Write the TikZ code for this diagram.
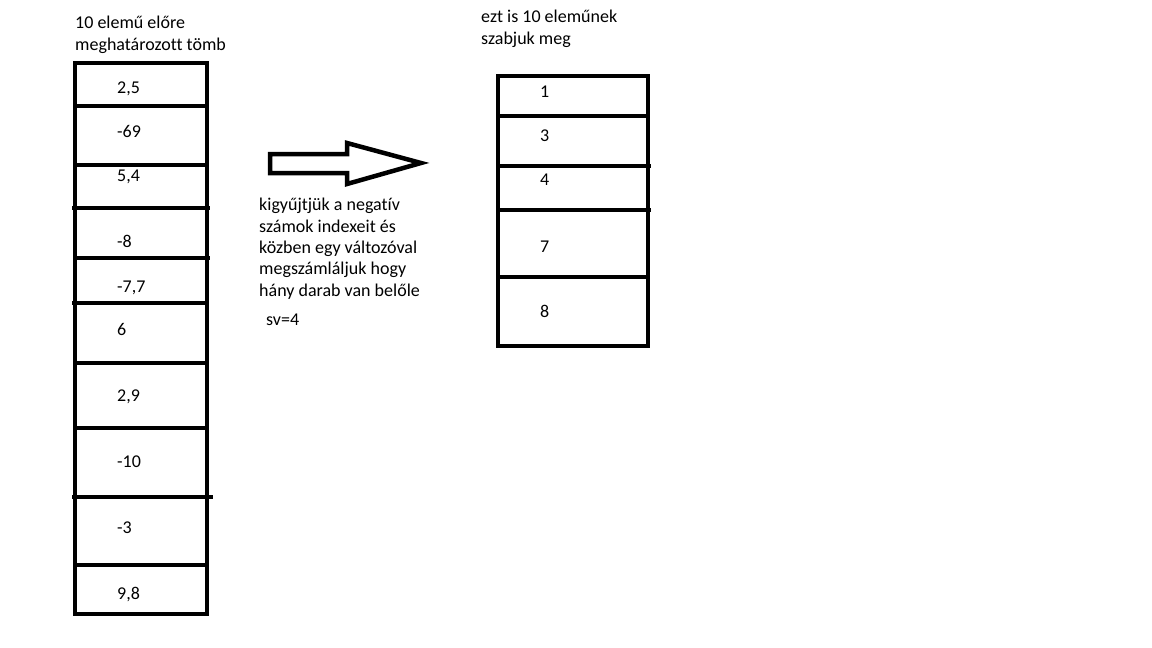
\documentclass[tikz,border=0pt]{standalone}
\usepackage{fontspec}
\setmainfont{Carlito}[Ligatures={NoCommon}]
\begin{document}
\begin{tikzpicture}[x=1pt,y=-1pt,
  bar/.style={line width=4.5pt},
  txt/.style={anchor=base west,inner sep=0pt,font=\fontsize{18}{20}\selectfont}]
\useasboundingbox[fill=white] (0,0) rectangle (1152,648);
% titles
\node[txt] (t1a) at (75,28) {10 elemű előre};
\node[txt] (t1b) at (75,50) {meghatározott tömb};
\node[txt] (t2a) at (481,22) {ezt is 10 eleműnek};
\node[txt] (t2b) at (481,44) {szabjuk meg};
% left array
\draw[bar] (75,63) rectangle (207,614);
\draw[bar] (75,106) -- (207,106);
\draw[bar] (75,165) -- (207,165);
\draw[bar] (72,208) -- (210,208);
\draw[bar] (75,258) -- (210,258);
\draw[bar] (72,303) -- (207,303);
\draw[bar] (75,363) -- (209,363);
\draw[bar] (75,428) -- (207,428);
\draw[bar] (72,497) -- (213,497);
\draw[bar] (75,565) -- (207,565);
\node[txt] (a1) at (117,93) {2,5};
\node[txt] (a2) at (117,137) {-69};
\node[txt] (a3) at (117,181) {5,4};
\node[txt] (a4) at (117,247) {-8};
\node[txt] (a5) at (117,292) {-7,7};
\node[txt] (a6) at (117,335) {6};
\node[txt] (a7) at (117,401) {2,9};
\node[txt] (a8) at (117,467) {-10};
\node[txt] (a9) at (117,533) {-3};
\node[txt] (a10) at (117,599) {9,8};
% arrow
\draw[line width=4.5pt,line join=miter]
  (270,154) -- (347,154) -- (347,143) -- (421,163) -- (347,184) -- (347,173) -- (270,173) -- cycle;
% explanation
\node[txt] (e1) at (259,210) {kigyűjtjük a negatív};
\node[txt] (e2) at (259,232) {számok indexeit és};
\node[txt] (e3) at (259,253) {közben egy változóval};
\node[txt] (e4) at (259,274) {megszámláljuk hogy};
\node[txt] (e5) at (259,296) {hány darab van belőle};
\node[txt] (sv) at (266,325) {sv=4};
% right array
\draw[bar] (498,76) rectangle (648,346);
\draw[bar] (498,116) -- (648,116);
\draw[bar] (498,166) -- (651,166);
\draw[bar] (498,210) -- (651,210);
\draw[bar] (498,277) -- (648,277);
\node[txt] (b1) at (540,97) {1};
\node[txt] (b2) at (540,141) {3};
\node[txt] (b3) at (540,185) {4};
\node[txt] (b4) at (540,252) {7};
\node[txt] (b5) at (540,317) {8};
\end{tikzpicture}
\end{document}
